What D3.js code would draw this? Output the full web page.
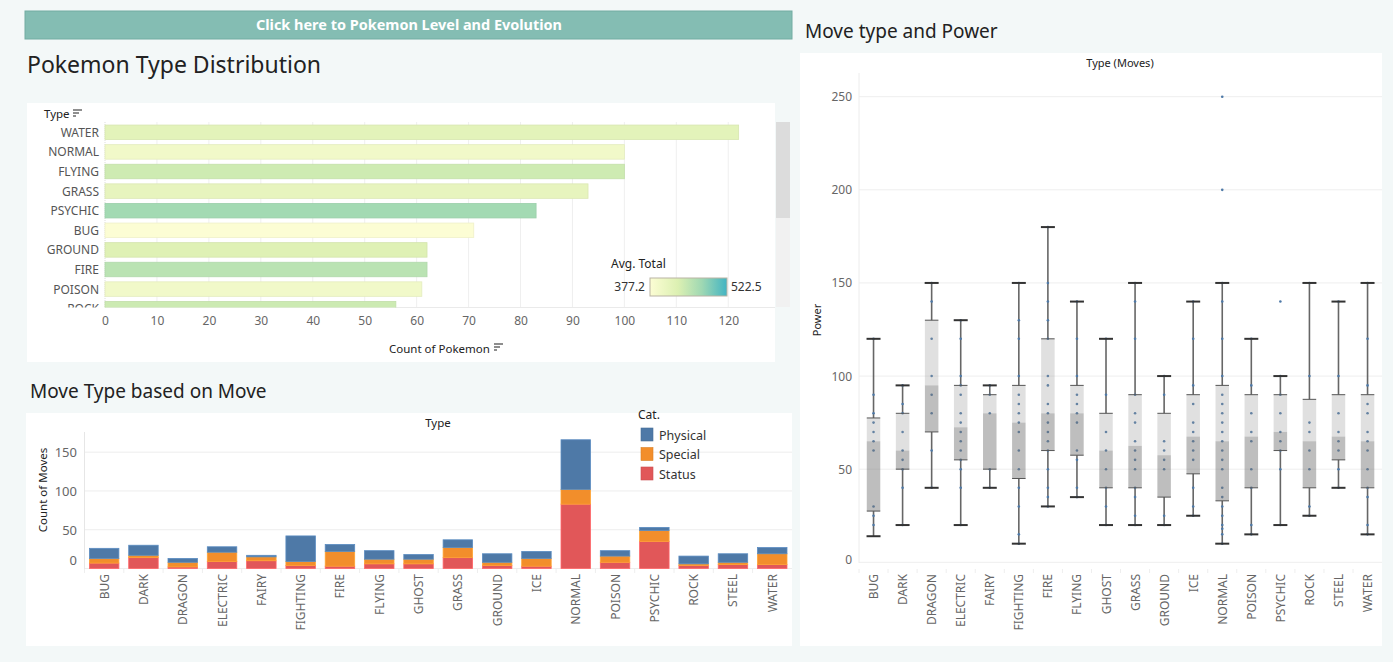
<!DOCTYPE html>
<html>
<head>
<meta charset="utf-8"/>
<script src="https://cdn.jsdelivr.net/npm/d3@7"></script>
<style>
    body { margin:0; background:#fff; font-family:"Noto Sans", sans-serif; }
    svg text { font-family:"Noto Sans", sans-serif; }
</style>
</head>
<body>
<svg id="dash" width="1400" height="662"></svg>
<script>
// ---- data: Pokemon type distribution ----
const popTypes = ["WATER","NORMAL","FLYING","GRASS","PSYCHIC","BUG","GROUND","FIRE","POISON","ROCK"];
const popCounts = [122,100,100,93,83,71,62,62,61,56];
const popAvgTotal = [418,395,440,412,472,377.2,425,455,395,442];
const popTicks = [0,10,20,30,40,50,60,70,80,90,100,110,120];

// ---- data: moves by type and category ----
const moveTypes = ["BUG","DARK","DRAGON","ELECTRIC","FAIRY","FIGHTING","FIRE","FLYING","GHOST","GRASS","GROUND","ICE","NORMAL","POISON","PSYCHIC","ROCK","STEEL","WATER"];
const physical = [13,13,5,7,2,33,9,11,6,10,11,9,64,7,4,10,11,8];
const special  = [6,3,6,12,5,5,19,6,6,13,4,10,19,8,14,2,3,14];
const status   = [7,14,2,9,10,4,3,6,6,14,4,3,83,8,35,4,5,5];
const catNames = ["Physical","Special","Status"];
const catColors = ["#4e79a7","#f28e2b","#e15759"];

// ---- data: move power box plots ----
const boxLower  = [14,20,40,20,40,10,30,35,20,20,20,25,10,15,20,25,40,15];
const boxQ1     = [27.5,50,70,55,50,45,60,57.5,40,40,35,47.5,33,40,60,40,55,40];
const boxMedian = [65,60,95,72.5,80,75,80,80,60,62.5,57.5,67.5,65,67.5,70,65,67.5,65];
const boxQ3     = [77.5,80,130,95,90,95,120,95,80,90,80,90,95,90,90,87.5,90,90];
const boxUpper  = [120,95,150,130,95,150,180,140,120,150,100,140,150,120,100,150,140,150];
const movePower = [
    [120,90,80,75,70,65,60,30,25,20],
    [95,85,80,70,60,55,50,40,20],
    [150,140,120,100,90,80,60,40],
    [130,120,100,95,90,80,75,70,65,60,55,50,40,20],
    [95,90,80,50,40],
    [150,130,120,100,90,85,80,75,70,60,50,40,30,15,10],
    [180,150,140,130,120,100,95,85,80,75,70,65,60,50,40,35,30],
    [140,120,100,90,85,80,75,60,55,40,35],
    [120,90,70,60,50,40,30,20],
    [150,140,120,90,80,75,65,60,55,50,40,35,25,20],
    [100,90,65,60,55,50,25,20],
    [140,120,95,85,75,70,65,60,55,40,30,25],
    [250,200,150,140,120,100,90,85,80,75,70,65,60,55,50,40,35,30,25,20,18,15,10],
    [120,95,80,70,65,50,40,20,15],
    [140,100,90,80,70,65,60,50,20],
    [150,100,75,70,60,50,30,25],
    [140,100,80,70,65,60,50,40],
    [150,120,95,85,80,70,65,60,50,40,35,20,15]
];
const powerTicks = [0,50,100,150,200,250];
const countTicks = [0,50,100,150];

const svg = d3.select("#dash");

// page background and panels
svg.append("rect").attr("x",0).attr("y",0).attr("width",1393).attr("height",662).attr("fill","#f3f8f8");
svg.append("rect").attr("x",27).attr("y",103).attr("width",748).attr("height",259).attr("fill","#fff");
svg.append("rect").attr("x",26).attr("y",413).attr("width",766).attr("height",233).attr("fill","#fff");
svg.append("rect").attr("x",800).attr("y",53).attr("width",582).attr("height",593).attr("fill","#fff");

// header button
svg.append("rect").attr("x",25).attr("y",11).attr("width",767).attr("height",28)
    .attr("fill","#84bdb3").attr("stroke","#72aca2");
svg.append("text").text("Click here to Pokemon Level and Evolution")
    .attr("x",409).attr("y",30).attr("text-anchor","middle")
    .style("font-size","14.5px").style("font-weight","700").attr("fill","#fff")
    .attr("textLength",306).attr("lengthAdjust","spacingAndGlyphs");

// titles
svg.append("text").text("Pokemon Type Distribution").attr("x",27).attr("y",73)
    .style("font-size","23px").attr("fill","#222");
svg.append("text").text("Move Type based on Move").attr("x",30).attr("y",398)
    .style("font-size","19px").attr("fill","#222");
svg.append("text").text("Move type and Power").attr("x",805).attr("y",38)
    .style("font-size","19px").attr("fill","#222");

function sortIcon(g, x, y) {
    [9,6,3].forEach((w,i) => {
        g.append("line").attr("x1",x).attr("x2",x+w).attr("y1",y+i*3).attr("y2",y+i*3)
            .attr("stroke","#444").attr("stroke-width",1.2);
    });
}

// ===== chart 1: horizontal bars =====
{
    const g = svg.append("g");
    const x = d3.scaleLinear().domain([0,129]).range([105,775]);
    const y = d3.scaleBand().domain(popTypes).range([122.5,122.5+19.6*popTypes.length]).paddingInner(0.26).paddingOuter(0.13);
    const color = d3.scaleLinear().domain([377.2,430,475,522.5])
        .range(["#fcfdd4","#dcf0b2","#9fd8b3","#42b4c3"]);

    // rows scroll inside this window
    g.append("defs").append("clipPath").attr("id","clip1")
        .append("rect").attr("x",30).attr("y",122).attr("width",745).attr("height",185.5);

    g.selectAll(".grid").data(popTicks.slice(1)).join("line")
        .attr("x1",d=>x(d)).attr("x2",d=>x(d)).attr("y1",122).attr("y2",307.5)
        .attr("stroke","#efefef");
    g.append("line").attr("x1",105).attr("x2",105).attr("y1",122).attr("y2",307.5)
        .attr("stroke","#ddd").attr("stroke-dasharray","1,1");
    g.append("line").attr("x1",105).attr("x2",775).attr("y1",307.5).attr("y2",307.5)
        .attr("stroke","#eaeaea");

    g.append("g").attr("clip-path","url(#clip1)")
        .selectAll("rect").data(popTypes).join("rect")
        .attr("x",x(0)).attr("y",d=>y(d))
        .attr("width",(d,i)=>x(popCounts[i])-x(0)).attr("height",y.bandwidth())
        .attr("fill",(d,i)=>color(popAvgTotal[i]))
        .attr("stroke",(d,i)=>d3.color(color(popAvgTotal[i])).darker(0.15))
        .attr("stroke-width",0.8);

    g.append("g").attr("clip-path","url(#clip1)")
        .selectAll("text").data(popTypes).join("text")
        .text(d=>d).attr("x",99).attr("y",d=>y(d)+y.bandwidth()/2)
        .attr("text-anchor","end").attr("dominant-baseline","central")
        .style("font-size","12px").attr("fill","#555");

    const xAxis = g.append("g").attr("transform","translate(0,307.5)")
        .call(d3.axisBottom(x).tickValues(popTicks).tickSize(0).tickPadding(9));
    xAxis.select(".domain").remove();
    xAxis.selectAll("text").style("font-size","12px").attr("fill","#666")
        .style("font-family","Noto Sans");

    g.append("text").text("Type").attr("x",44).attr("y",118).style("font-size","11.5px").attr("fill","#222");
    sortIcon(g, 73, 110);
    g.append("text").text("Count of Pokemon").attr("x",389).attr("y",353).style("font-size","11.5px").attr("fill","#222");
    sortIcon(g, 494, 344);

    // scrollbar
    g.append("rect").attr("x",776).attr("y",122).attr("width",14).attr("height",185).attr("fill","#f1f1f1");
    g.append("rect").attr("x",776).attr("y",122).attr("width",14).attr("height",96).attr("fill","#dcdcdc");

    // colour legend
    const grad = g.append("defs").append("linearGradient").attr("id","avgGrad");
    color.domain().forEach((d,i)=>{
        grad.append("stop").attr("offset",(d-377.2)/(522.5-377.2)).attr("stop-color",color.range()[i]);
    });
    g.append("text").text("Avg. Total").attr("x",611).attr("y",268).style("font-size","12px").attr("fill","#222");
    g.append("rect").attr("x",650).attr("y",278).attr("width",77).attr("height",18)
        .attr("fill","url(#avgGrad)").attr("stroke","#b9b3a4");
    g.append("text").text("377.2").attr("x",645).attr("y",291).attr("text-anchor","end")
        .style("font-size","12px").attr("fill","#333");
    g.append("text").text("522.5").attr("x",731).attr("y",291)
        .style("font-size","12px").attr("fill","#333");
}

// ===== chart 2: stacked bars =====
{
    const g = svg.append("g");
    const x = d3.scaleBand().domain(moveTypes).range([84.5,84.5+39.3*moveTypes.length]).paddingInner(0.25).paddingOuter(0.125);
    const y = d3.scaleLinear().domain([0,176]).range([568.5,432]);

    g.selectAll(".grid").data(countTicks).join("line")
        .attr("x1",84.5).attr("x2",792).attr("y1",d=>y(d)).attr("y2",d=>y(d))
        .attr("stroke","#ededed");
    g.append("line").attr("x1",84.5).attr("x2",84.5).attr("y1",432).attr("y2",569).attr("stroke","#e6e6e6");

    const rows = moveTypes.map((t,i)=>({type:t, Status:status[i], Special:special[i], Physical:physical[i]}));
    const stack = d3.stack().keys(["Status","Special","Physical"])(rows);
    const colorOf = {Physical:catColors[0], Special:catColors[1], Status:catColors[2]};

    stack.forEach(layer=>{
        g.append("g").selectAll("rect").data(layer).join("rect")
            .attr("x",d=>x(d.data.type)).attr("width",x.bandwidth())
            .attr("y",d=>y(d[1])).attr("height",d=>y(d[0])-y(d[1]))
            .attr("fill",colorOf[layer.key])
            .attr("stroke",d3.color(colorOf[layer.key]).brighter(0.4)).attr("stroke-width",0.8);
    });

    g.selectAll(".ylab").data(countTicks).join("text")
        .text(d=>d).attr("x",77).attr("y",d=>d===0 ? y(d)-9 : y(d))
        .attr("text-anchor","end").attr("dominant-baseline","central")
        .style("font-size","13px").attr("fill","#666");

    g.selectAll(".sep").data(moveTypes).join("line")
        .attr("x1",d=>x(d)-x.step()*0.125).attr("x2",d=>x(d)-x.step()*0.125)
        .attr("y1",569).attr("y2",573).attr("stroke","#eee");
    g.selectAll(".xlab").data(moveTypes).join("text")
        .text(d=>d)
        .attr("transform",d=>`translate(${x(d)+x.bandwidth()/2},574) rotate(-90)`)
        .attr("text-anchor","end").attr("dominant-baseline","central")
        .style("font-size","12px").attr("fill","#666");

    g.append("text").text("Count of Moves")
        .attr("transform","translate(42,490) rotate(-90)").attr("text-anchor","middle")
        .attr("dominant-baseline","central").style("font-size","11.5px").attr("fill","#222");
    g.append("text").text("Type").attr("x",438).attr("y",427).attr("text-anchor","middle")
        .style("font-size","11.5px").attr("fill","#222");

    // legend
    g.append("text").text("Cat.").attr("x",638).attr("y",419).style("font-size","12px").attr("fill","#222");
    catNames.forEach((c,i)=>{
        g.append("rect").attr("x",641).attr("y",428+i*19.5).attr("width",12).attr("height",13)
            .attr("fill",catColors[i]).attr("stroke",d3.color(catColors[i]).darker(0.3)).attr("stroke-width",0.6);
        g.append("text").text(c).attr("x",659).attr("y",435+i*19.5).attr("dominant-baseline","central")
            .style("font-size","12.5px").attr("fill","#333");
    });
}

// ===== chart 3: box plots =====
{
    const g = svg.append("g");
    const x = d3.scaleBand().domain(moveTypes).range([859,859+29.06*moveTypes.length]);
    const y = d3.scaleLinear().domain([0,263]).range([562.3,72.5]);
    const bw = 13.5;

    g.selectAll(".grid").data(powerTicks).join("line")
        .attr("x1",859).attr("x2",1382).attr("y1",d=>y(d)).attr("y2",d=>y(d))
        .attr("stroke","#eeeeee");
    g.append("line").attr("x1",859).attr("x2",859).attr("y1",73).attr("y2",563).attr("stroke","#ececec");

    g.selectAll(".ylab").data(powerTicks).join("text")
        .text(d=>d).attr("x",852).attr("y",d=>d===0 ? y(d)-3 : y(d))
        .attr("text-anchor","end").attr("dominant-baseline","central")
        .style("font-size","12px").attr("fill","#666");

    moveTypes.forEach((t,i)=>{
        const cx = x(t)+x.bandwidth()/2;
        // whiskers
        g.append("line").attr("x1",cx).attr("x2",cx).attr("y1",y(boxUpper[i])).attr("y2",y(boxQ3[i]))
            .attr("stroke","#666").attr("stroke-width",1.6);
        g.append("line").attr("x1",cx).attr("x2",cx).attr("y1",y(boxQ1[i])).attr("y2",y(boxLower[i]))
            .attr("stroke","#666").attr("stroke-width",1.6);
        // points
        g.append("g").selectAll("circle").data(movePower[i]).join("circle")
            .attr("cx",cx).attr("cy",d=>y(d)).attr("r",1.3).attr("fill","#4e79a7");
        // box halves
        g.append("rect").attr("x",cx-bw/2).attr("width",bw)
            .attr("y",y(boxQ3[i])).attr("height",y(boxMedian[i])-y(boxQ3[i]))
            .attr("fill","#999").attr("fill-opacity",0.3);
        g.append("rect").attr("x",cx-bw/2).attr("width",bw)
            .attr("y",y(boxMedian[i])).attr("height",y(boxQ1[i])-y(boxMedian[i]))
            .attr("fill","#777").attr("fill-opacity",0.48);
        [boxQ3[i], boxQ1[i]].forEach(v=>{
            g.append("line").attr("x1",cx-bw/2).attr("x2",cx+bw/2).attr("y1",y(v)).attr("y2",y(v))
                .attr("stroke","#555").attr("stroke-width",1);
        });
        // caps
        [boxUpper[i], boxLower[i]].forEach(v=>{
            g.append("line").attr("x1",cx-7).attr("x2",cx+7).attr("y1",y(v)).attr("y2",y(v))
                .attr("stroke","#333").attr("stroke-width",2);
        });
    });

    g.selectAll(".sep").data(moveTypes).join("line")
        .attr("x1",d=>x(d)).attr("x2",d=>x(d)).attr("y1",569).attr("y2",573).attr("stroke","#eee");
    g.selectAll(".xlab").data(moveTypes).join("text")
        .text(d=>d)
        .attr("transform",d=>`translate(${x(d)+x.bandwidth()/2},574) rotate(-90)`)
        .attr("text-anchor","end").attr("dominant-baseline","central")
        .style("font-size","12px").attr("fill","#666");

    g.append("text").text("Power")
        .attr("transform","translate(816,320) rotate(-90)").attr("text-anchor","middle")
        .attr("dominant-baseline","central").style("font-size","11px").attr("fill","#222");
    g.append("text").text("Type (Moves)").attr("x",1120).attr("y",67).attr("text-anchor","middle")
        .style("font-size","11px").attr("fill","#222");
}
</script>
</body>
</html>
